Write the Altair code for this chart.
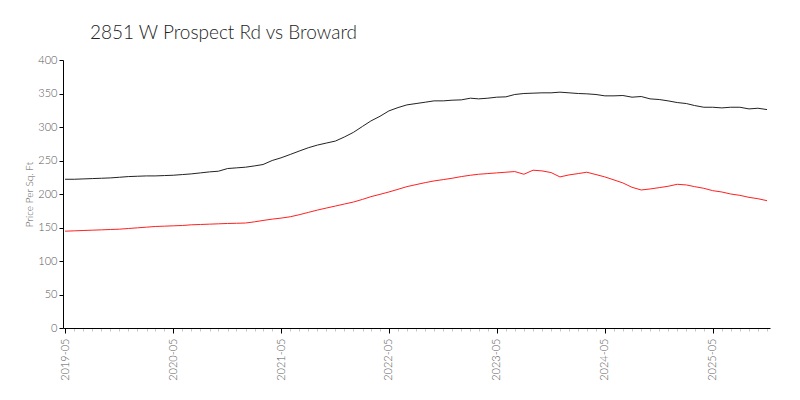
import altair as alt
import pandas as pd

months = [d.strftime("%Y-%m-%d") for d in pd.date_range("2019-05-01", "2025-11-01", freq="MS")]

property_ppsf = [
    222, 222, 222.5, 223, 223.5, 224, 225, 226, 226.5, 227, 227, 227.5,
    228, 229, 230, 231.5, 233, 234, 238, 239, 240, 242, 244, 250,
    254, 259, 264, 269, 273, 276, 279, 285, 292, 301, 309, 316,
    324, 329, 333, 335, 337, 339, 339, 340, 340.5, 343, 342, 343,
    344.5, 345, 348.5, 350, 350.5, 351, 351, 352, 351, 350, 349.5, 348.5,
    346.5, 346.5, 347, 344.5, 345.5, 342, 341, 339, 336.5, 335, 332, 329.5,
    329.5, 328.5, 329.5, 329.5, 327, 328, 326,
]

broward_ppsf = [
    144.5, 145, 145.5, 146, 146.5, 147, 147.5, 148.5, 149.5, 150.5, 151.5, 152,
    152.5, 153, 154, 154.5, 155, 155.5, 156, 156.3, 156.7, 158.5, 160.5, 162.5,
    164, 166, 169, 172.5, 176, 179, 182, 185, 188, 192, 196, 199.5,
    203, 207, 211, 214, 217, 219.5, 221.5, 223.5, 226, 228, 229.5, 230.5,
    231.5, 232.5, 233.5, 229.5, 235.5, 234.5, 232, 225.5, 228.5, 230.5, 232.5, 229,
    225.5, 221, 216.5, 210, 206, 207.5, 209.5, 211.5, 214.5, 213.5, 211, 208.5,
    205, 203, 200, 198, 195, 193, 190,
]

y_ticks = [0, 50, 100, 150, 200, 250, 300, 350, 400]
major_years = [2019, 2020, 2021, 2022, 2023, 2024, 2025]

FONT = "Lato"

df_prop = pd.DataFrame({"date": months, "ppsf": property_ppsf})
df_brw = pd.DataFrame({"date": months, "ppsf": broward_ppsf})

x_scale = alt.Scale(
    type="utc",
    domain=[alt.DateTime(year=2019, month=4, date=24, utc=True),
            alt.DateTime(year=2025, month=11, date=11, utc=True)],
)
y_scale = alt.Scale(domain=[0, 400], nice=False)

major_vals = [alt.DateTime(year=y, month=5, date=1, utc=True) for y in major_years]
minor_vals = [alt.DateTime(year=int(m[:4]), month=int(m[5:7]), date=1, utc=True) for m in months]

minor_axis = alt.Axis(
    values=minor_vals, labels=False, domain=False, grid=False,
    ticks=True, tickSize=3, tickColor="#c8c8c8", title=None, orient="bottom",
)
major_axis = alt.Axis(
    values=major_vals, format="%Y-%m", labelAngle=-90, labelAlign="right",
    labelBaseline="middle", labelFontSize=11, labelColor="#595959", labelFont=FONT,
    labelFontWeight=300, labelPadding=5, tickSize=5, tickColor="#000000",
    domainColor="#000000", grid=False, title=None, orient="bottom",
)
y_axis = alt.Axis(
    values=y_ticks, grid=False, tickSize=4, tickColor="#000000", domainColor="#000000",
    labelFontSize=11, labelColor="#595959", labelFont=FONT, labelFontWeight=300,
    labelPadding=2,
    title="Price Per Sq. Ft", titleFontSize=10, titleFont=FONT, titleColor="#595959",
    titleFontWeight=300, titlePadding=3,
)

brw = alt.Chart(df_brw).mark_line(color="#ff2020", strokeWidth=1).encode(
    x=alt.X("date:T", scale=x_scale, axis=minor_axis),
    y=alt.Y("ppsf:Q", scale=y_scale, axis=y_axis),
)
prop = alt.Chart(df_prop).mark_line(color="#222222", strokeWidth=1).encode(
    x=alt.X("date:T", scale=x_scale, axis=major_axis),
    y=alt.Y("ppsf:Q", scale=y_scale, axis=y_axis),
)

chart = alt.layer(brw, prop).resolve_axis(x="independent").properties(
    width=707,
    height=268,
    autosize=alt.AutoSizeParams(type="none"),
    padding={"left": 55, "top": 52, "right": 22, "bottom": 64},
    title=alt.TitleParams(
        "2851 W Prospect Rd vs Broward", anchor="start", frame="group", dx=27,
        fontSize=19, font=FONT, fontWeight=300, color="#222222", offset=11,
    ),
).configure_view(stroke=None)

chart.save("out.html", embed_options={"renderer": "svg", "actions": False})
